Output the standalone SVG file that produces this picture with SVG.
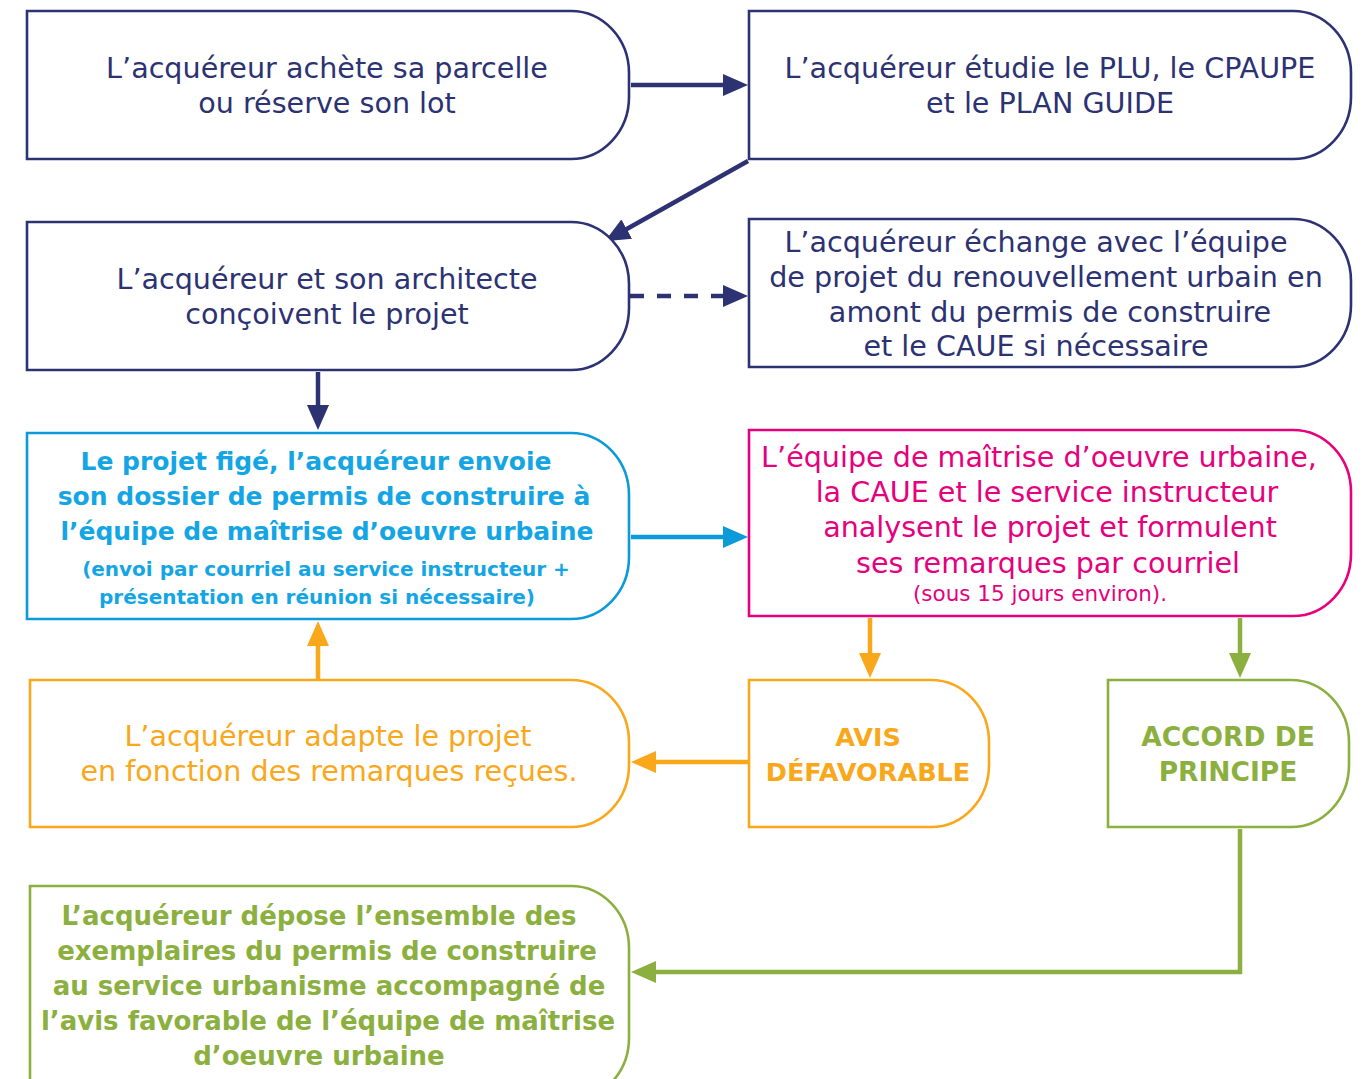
<svg xmlns="http://www.w3.org/2000/svg" width="1367" height="1079" viewBox="0 0 1367 1079">
<defs>
<style>
.box{fill:#fff;stroke-width:2.6}
.t{font-family:"DejaVu Sans",sans-serif;font-size:28.6px;text-anchor:middle}
.b{font-family:"DejaVu Sans",sans-serif;font-size:25px;font-weight:bold;text-anchor:middle}
.s{font-size:20px}
.navy{stroke:#2c3272}.navyT{fill:#2c3272}
.blue{stroke:#0d9ad9}.blueT{fill:#14a5e5}
.mag{stroke:#e6007e}.magT{fill:#e6007e}
.org{stroke:#f9a71b}.orgT{fill:#f9a71b}
.grn{stroke:#8bb03f}.grnT{fill:#8bb03f}
.c{fill:none;stroke-width:4.5}
</style>
<marker id="mNavy" markerUnits="userSpaceOnUse" markerWidth="26" markerHeight="22" refX="2" refY="11" orient="auto"><path d="M0,0 L25,11 L0,22 z" fill="#2c3272"/></marker>
<marker id="mBlue" markerUnits="userSpaceOnUse" markerWidth="26" markerHeight="22" refX="2" refY="11" orient="auto"><path d="M0,0 L25,11 L0,22 z" fill="#0d9ad9"/></marker>
<marker id="mOrg" markerUnits="userSpaceOnUse" markerWidth="26" markerHeight="22" refX="2" refY="11" orient="auto"><path d="M0,0 L25,11 L0,22 z" fill="#f9a71b"/></marker>
<marker id="mGrn" markerUnits="userSpaceOnUse" markerWidth="26" markerHeight="22" refX="2" refY="11" orient="auto"><path d="M0,0 L25,11 L0,22 z" fill="#8bb03f"/></marker>
</defs>
<rect width="1367" height="1079" fill="#fff"/>

<g id="connectors">
<line class="c navy" x1="631" y1="85" x2="725" y2="85" marker-end="url(#mNavy)"/>
<line class="c navy" x1="748" y1="161" x2="625" y2="230" marker-end="url(#mNavy)"/>
<line class="c navy" x1="630" y1="296" x2="725" y2="296" stroke-dasharray="14 13" marker-end="url(#mNavy)"/>
<line class="c navy" x1="318" y1="372" x2="318" y2="407" marker-end="url(#mNavy)"/>
<line class="c blue" x1="631" y1="537" x2="725" y2="537" marker-end="url(#mBlue)"/>
<line class="c org" x1="870" y1="618" x2="870" y2="655" marker-end="url(#mOrg)"/>
<line class="c grn" x1="1240" y1="618" x2="1240" y2="655" marker-end="url(#mGrn)"/>
<line class="c org" x1="748" y1="762" x2="654" y2="762" marker-end="url(#mOrg)"/>
<line class="c org" x1="318" y1="679" x2="318" y2="644" marker-end="url(#mOrg)"/>
<polyline class="c grn" points="1240,829 1240,972 654,972" marker-end="url(#mGrn)"/>
</g>

<g id="n1">
<path class="box navy" d="M27,11 H571 A58,62 0 0 1 629,73 V97 A58,62 0 0 1 571,159 H27 Z"/>
<text class="t navyT" x="327" y="78">L’acquéreur achète sa parcelle</text>
<text class="t navyT" x="327" y="113">ou réserve son lot</text>
</g>

<g id="n2">
<path class="box navy" d="M749,11 H1293 A58,62 0 0 1 1351,73 V97 A58,62 0 0 1 1293,159 H749 Z"/>
<text class="t navyT" x="1050" y="78">L’acquéreur étudie le PLU, le CPAUPE</text>
<text class="t navyT" x="1050" y="113">et le PLAN GUIDE</text>
</g>

<g id="n3">
<path class="box navy" d="M27,222 H571 A58,62 0 0 1 629,284 V308 A58,62 0 0 1 571,370 H27 Z"/>
<text class="t navyT" x="327" y="289">L’acquéreur et son architecte</text>
<text class="t navyT" x="327" y="324">conçoivent le projet</text>
</g>

<g id="n4">
<path class="box navy" d="M749,219 H1293 A58,62 0 0 1 1351,281 V305 A58,62 0 0 1 1293,367 H749 Z"/>
<text class="t navyT" x="1036" y="252">L’acquéreur échange avec l’équipe</text>
<text class="t navyT" x="1046" y="287">de projet du renouvellement urbain en</text>
<text class="t navyT" x="1050" y="322">amont du permis de construire</text>
<text class="t navyT" x="1036" y="356">et le CAUE si nécessaire</text>
</g>

<g id="n5">
<path class="box blue" d="M27,433 H571 A58,62 0 0 1 629,495 V557 A58,62 0 0 1 571,619 H27 Z"/>
<text class="b blueT" x="316" y="470">Le projet figé, l’acquéreur envoie</text>
<text class="b blueT" x="324" y="505">son dossier de permis de construire à</text>
<text class="b blueT" x="327" y="540">l’équipe de maîtrise d’oeuvre urbaine</text>
<text class="b s blueT" x="326" y="576">(envoi par courriel au service instructeur +</text>
<text class="b s blueT" x="317" y="604">présentation en réunion si nécessaire)</text>
</g>

<g id="n6">
<path class="box mag" d="M749,430 H1293 A58,62 0 0 1 1351,492 V554 A58,62 0 0 1 1293,616 H749 Z"/>
<text class="t magT" x="1039" y="467">L’équipe de maîtrise d’oeuvre urbaine,</text>
<text class="t magT" x="1047" y="502">la CAUE et le service instructeur</text>
<text class="t magT" x="1050" y="537">analysent le projet et formulent</text>
<text class="t magT" x="1048" y="573">ses remarques par courriel</text>
<text class="t magT" x="1040" y="601" style="font-size:21.5px">(sous 15 jours environ).</text>
</g>

<g id="n7">
<path class="box org" d="M30,680 H571 A58,62 0 0 1 629,742 V765 A58,62 0 0 1 571,827 H30 Z"/>
<text class="t orgT" x="328" y="746">L’acquéreur adapte le projet</text>
<text class="t orgT" x="329" y="781">en fonction des remarques reçues.</text>
</g>

<g id="n8">
<path class="box org" d="M749,680 H931 A58,62 0 0 1 989,742 V765 A58,62 0 0 1 931,827 H749 Z"/>
<text class="b orgT" x="868" y="746" style="font-size:25.5px">AVIS</text>
<text class="b orgT" x="868" y="781" style="font-size:25.5px">DÉFAVORABLE</text>
</g>

<g id="n9">
<path class="box grn" d="M1108,680 H1291 A58,62 0 0 1 1349,742 V765 A58,62 0 0 1 1291,827 H1108 Z"/>
<text class="b grnT" x="1228" y="746" style="font-size:26.5px">ACCORD DE</text>
<text class="b grnT" x="1228" y="781" style="font-size:26.5px">PRINCIPE</text>
</g>

<g id="n10">
<path class="box grn" d="M30,886 H571 A58,62 0 0 1 629,948 V1038 A58,62 0 0 1 571,1100 H30 Z"/>
<text class="b grnT" x="319" y="925" style="font-size:26px">L’acquéreur dépose l’ensemble des</text>
<text class="b grnT" x="327" y="960" style="font-size:26px">exemplaires du permis de construire</text>
<text class="b grnT" x="329" y="995" style="font-size:26px">au service urbanisme accompagné de</text>
<text class="b grnT" x="328" y="1030" style="font-size:26px">l’avis favorable de l’équipe de maîtrise</text>
<text class="b grnT" x="319" y="1065" style="font-size:26px">d’oeuvre urbaine</text>
</g>
</svg>
